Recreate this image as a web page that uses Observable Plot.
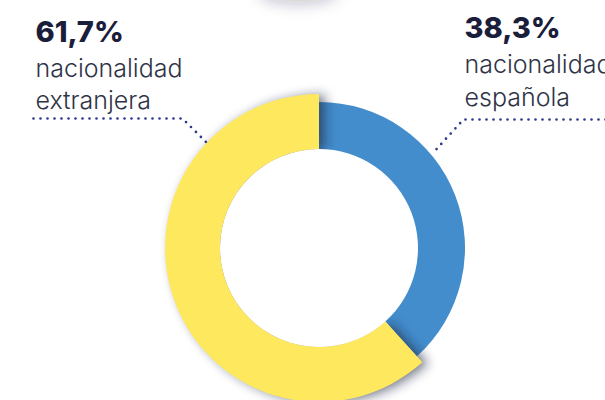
<!DOCTYPE html>
<html><head><meta charset="utf-8">
<script src="https://cdn.jsdelivr.net/npm/d3@7"></script>
<script src="https://cdn.jsdelivr.net/npm/@observablehq/plot@0.6"></script>
<style>html,body{margin:0;padding:0;background:#fff;overflow:hidden} svg{display:block}</style>
</head><body><div id="chart"></div>
<script>
// ---- data ----
const categories = ["nacionalidad española", "nacionalidad extranjera"];
const shares = [38.3, 61.7];
const pctLabels = ["38,3%", "61,7%"];
const lineOne = ["nacionalidad", "nacionalidad"];
const lineTwo = ["española", "extranjera"];
const sliceColors = ["#438DCC", "#FEE85E"];

const data = categories.map((c, i) => ({category: c, share: shares[i]}));

// ---- layout ----
const W = 605, H = 400;
const CX = 319, CY = 248, R_IN = 99, R_OUT = [146, 154];
const NAVY = "#1A1E3A", GREY = "#2F3447", DOTS = "#2D3A8C";
const leftLeader = [[33, 118], [182, 118], [206, 142]];
const rightLeader = [[605, 119], [463, 119], [432, 153]];

function donutRender(index, scales, values, dims, context) {
  const g = d3.create("svg:g");
  const cx = values.x[index[0]], cy = values.y[index[0]];
  const k = scales.x(1) - scales.x(0);
  const arcs = d3.pie().value(d => d.share).sort(null)(data);
  const defs = g.append("defs");
  defs.append("filter").attr("id", "shblur").attr("x", "-50%").attr("y", "-50%")
    .attr("width", "200%").attr("height", "200%")
    .append("feGaussianBlur").attr("stdDeviation", 5.5);
  defs.append("filter").attr("id", "topblur").attr("x", "-80%").attr("y", "-80%")
    .attr("width", "260%").attr("height", "260%")
    .append("feGaussianBlur").attr("stdDeviation", 8);
  defs.append("clipPath").attr("id", "shclip").append("path")
    .attr("transform", `translate(${cx},${cy})`)
    .attr("d", d3.arc()({innerRadius: R_IN * k, outerRadius: 2000, startAngle: 0, endAngle: 2 * Math.PI}));
  // faint shadow of the element above the frame (decorative)
  g.append("ellipse").attr("cx", scales.x(298)).attr("cy", scales.y(-9))
    .attr("rx", 40 * k).attr("ry", 12 * k)
    .attr("fill", "#1B2540").attr("fill-opacity", 0.28).attr("filter", "url(#topblur)");
  arcs.forEach((a, j) => {
    const i = index[j];
    const arc = d3.arc().innerRadius(R_IN * k).outerRadius(R_OUT[j] * k);
    if (j > 0) {
      g.append("g").attr("clip-path", "url(#shclip)")
        .append("path")
        .attr("transform", `translate(${cx + 6},${cy + 1})`)
        .attr("d", arc(a))
        .attr("fill", "#1B2540")
        .attr("fill-opacity", 0.6)
        .attr("filter", "url(#shblur)");
    }
    g.append("path")
      .attr("transform", `translate(${cx},${cy})`)
      .attr("d", arc(a))
      .attr("fill", values.fill[i]);
  });
  return g.node();
}

const textBase = {textAnchor: "start", lineAnchor: "bottom", fontFamily: "Inter"};
const leaderStyle = {x: d => d[0], y: d => d[1], stroke: DOTS, strokeWidth: 2.7,
  strokeDasharray: "0,7", strokeLinecap: "round", strokeLinejoin: "round"};
const plot = Plot.plot({
  width: W, height: H, margin: 0,
  x: {domain: [0, W], range: [0, W], axis: null},
  y: {domain: [0, H], range: [0, H], axis: null},
  color: {domain: categories, range: sliceColors},
  style: {background: "#fff", overflow: "visible"},
  marks: [
    Plot.dot(data, {x: () => CX, y: () => CY, fill: "category", render: donutRender}),
    Plot.line(leftLeader, leaderStyle),
    Plot.line(rightLeader, leaderStyle),
    // left label (extranjera)
    Plot.text([pctLabels[1]], {...textBase, x: 35, y: 41.5, text: d => d, fontSize: 29, fontWeight: 800, fill: NAVY}),
    Plot.text([lineOne[1]], {...textBase, x: 35, y: 76, text: d => d, fontSize: 25, fontWeight: 300, fill: GREY}),
    Plot.text([lineTwo[1]], {...textBase, x: 35, y: 108, text: d => d, fontSize: 25, fontWeight: 300, fill: GREY}),
    // right label (española)
    Plot.text([pctLabels[0]], {...textBase, x: 464, y: 37, text: d => d, fontSize: 29, fontWeight: 800, fill: NAVY}),
    Plot.text([lineOne[0]], {...textBase, x: 464, y: 72, text: d => d, fontSize: 25, fontWeight: 300, fill: GREY}),
    Plot.text([lineTwo[0]], {...textBase, x: 464, y: 105, text: d => d, fontSize: 25, fontWeight: 300, fill: GREY})
  ]
});
document.getElementById("chart").appendChild(plot);
</script>
</body></html>
